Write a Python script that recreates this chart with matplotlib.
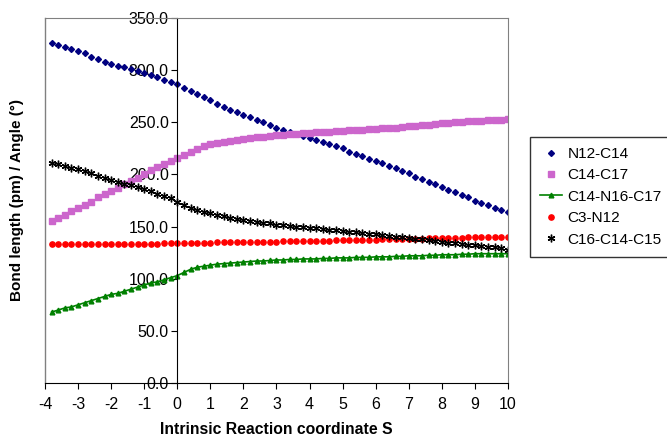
import numpy as np
import matplotlib
matplotlib.use('Agg')
import matplotlib.pyplot as plt

plt.rcParams['font.family'] = ['Liberation Sans', 'DejaVu Sans']
plt.rcParams['axes.unicode_minus'] = False

# reaction coordinate S, -3.8 .. 10.0 in steps of 0.2
s = np.round(np.linspace(-3.8, 10.0, 70), 1)

n12_c14 = [326, 324, 322, 320, 318, 316, 313, 311, 308, 306,
           304, 303, 301, 299, 297, 295, 293, 291, 289, 287,
           283, 280, 277, 274, 271, 268, 265, 262, 260, 257,
           255, 252, 250, 247, 245, 243, 241, 239, 237, 235,
           233, 231, 229, 227, 225, 222, 220, 218, 215, 213,
           211, 208, 206, 203, 201, 198, 196, 193, 191, 188,
           185, 183, 180, 178, 175, 173, 171, 168, 166, 164]

c14_c17 = [155, 158, 161, 165, 168, 171, 174, 178, 181, 184,
           187, 191, 194, 197, 200, 204, 207, 210, 213, 216,
           219, 222, 224, 227, 229, 230, 231, 232, 233, 234,
           235, 235.5, 236, 237, 238, 238, 238.5, 239, 239.5, 240,
           240.5, 241, 241, 241.5, 242, 242.5, 243, 243, 243.5, 244,
           244.5, 245, 245, 245.5, 246, 246.5, 247, 247.5, 248.5, 249,
           249.5, 250, 250.5, 251, 251, 251.5, 252, 252, 252.5, 253]

c14_n16_c17 = [68, 70, 72, 73, 75, 77, 79, 81, 83, 85,
               86, 88, 90, 92, 94, 96, 97, 99, 101, 103,
               106, 109, 111, 112, 113, 114, 114.5, 115, 115.5, 116,
               116.5, 117, 117, 117.5, 118, 118, 118.5, 118.5, 119, 119,
               119, 119.5, 119.5, 120, 120, 120, 120.5, 120.5, 120.5, 121,
               121, 121, 121.5, 121.5, 122, 122, 122, 122.5, 122.5, 123,
               123, 123, 123.5, 123.5, 124, 124, 124, 124, 124, 124]

c3_n12 = [133] * 17 + [134] * 8 + [135] * 10 + [136] * 8 + \
         [137] * 7 + [138] * 7 + [139] * 6 + [140] * 7

c16_c14_c15 = [211, 210, 208, 206, 205, 203, 201, 199, 197, 195,
               193, 191, 190, 188, 186, 184, 181, 179, 177, 174,
               171, 168, 166, 164, 163, 161, 160, 158, 157, 156,
               155, 154, 153.5, 153, 152, 151.5, 151, 150, 149.5, 149,
               148.5, 148, 147, 146.5, 146, 145, 144.5, 144, 143, 142.5,
               142, 141, 140.5, 140, 139, 138.5, 138, 137, 136, 135,
               134.5, 134, 133, 132.5, 132, 131, 130.5, 130, 129, 128]

fig = plt.figure(figsize=(6.67, 4.4), dpi=100)
ax = fig.add_axes([0.0675, 0.1295, 0.694, 0.8295])

ax.plot(s, n12_c14, linestyle='none', marker='D', markersize=3, color='#000080', label='N12-C14')
ax.plot(s, c14_c17, linestyle='none', marker='s', markersize=4.3, color='#cc66cc', label='C14-C17')
ax.plot(s, c14_n16_c17, linestyle='-', linewidth=1.2, marker='^', markersize=3.4, color='#008000', label='C14-N16-C17')
ax.plot(s, c3_n12, linestyle='none', marker='o', markersize=3.8, color='#ff0000', label='C3-N12')
ax.plot(s, c16_c14_c15, linestyle='none', marker=(6, 2, 0), markersize=5.5, markeredgewidth=1,
        color='black', label='C16-C14-C15')

ax.set_xlim(-4, 10)
ax.set_ylim(0, 350)
ax.set_xticks(range(-4, 11))
ax.set_yticks(np.arange(0, 351, 50))
ax.set_yticklabels([f'{v:.1f}' for v in np.arange(0, 351, 50)])

# Excel style: value axis crosses at S = 0, plot area framed in grey
ax.spines['left'].set_position(('data', 0))
ax.spines['left'].set_color('black')
ax.spines['bottom'].set_color('black')
for side in ['top', 'right']:
    ax.spines[side].set_color('#808080')
ax.plot([-4, -4], [0, 350], color='#808080', linewidth=1, clip_on=False)

ax.tick_params(axis='both', direction='out', length=4, labelsize=11.5, colors='black')
ax.tick_params(axis='x', pad=6)
ax.tick_params(axis='y', pad=2)

ax.set_xlabel('Intrinsic Reaction coordinate S', fontsize=11.3, fontweight='bold', labelpad=7)
fig.text(0.026, 0.545, 'Bond length (pm) / Angle (°)', rotation=90, fontsize=11,
         fontweight='bold', ha='center', va='center')

leg = ax.legend(loc='center left', bbox_to_anchor=(1.0475, 0.51), borderaxespad=0,
                frameon=True, fancybox=False, edgecolor='black', fontsize=11.1,
                handlelength=1.4, handletextpad=0.4, borderpad=0.65,
                labelspacing=0.48, markerscale=1.0)
leg.get_frame().set_linewidth(1)

fig.savefig('out.png', dpi=100)
